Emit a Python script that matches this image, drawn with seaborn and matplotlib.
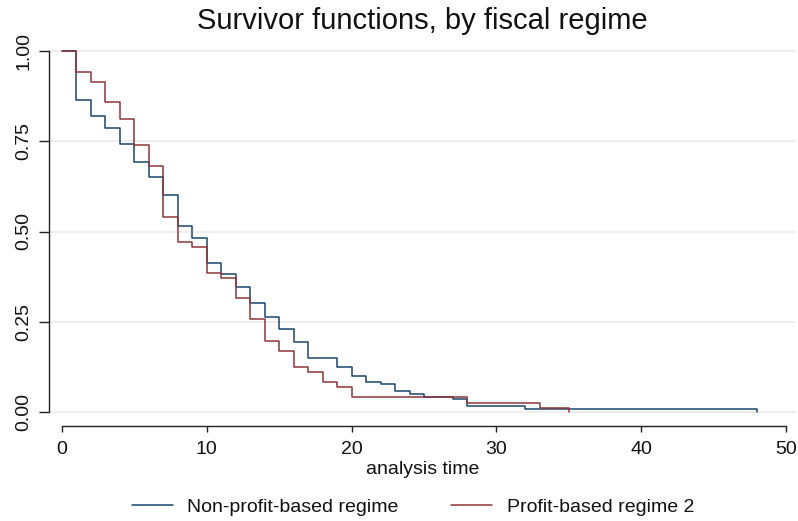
import matplotlib
matplotlib.use("Agg")
import matplotlib.pyplot as plt
import numpy as np
import pandas as pd
import seaborn as sns

# Kaplan-Meier survivor estimates (time of change, survival after it)
nonprofit_time = [0, 1, 2, 3, 4, 5, 6, 7, 8, 9, 10, 11, 12, 13, 14, 15, 16, 17,
                  19, 20, 21, 22, 23, 24, 25, 27, 28, 32, 48]
nonprofit_surv = [1.000, 0.864, 0.820, 0.786, 0.742, 0.693, 0.652, 0.601, 0.515,
                  0.481, 0.412, 0.381, 0.345, 0.303, 0.262, 0.229, 0.195, 0.150,
                  0.126, 0.101, 0.084, 0.078, 0.058, 0.049, 0.041, 0.035, 0.017,
                  0.009, 0.000]

profit_time = [0, 1, 2, 3, 4, 5, 6, 7, 8, 9, 10, 11, 12, 13, 14, 15, 16, 17,
               18, 19, 20, 28, 33, 35]
profit_surv = [1.000, 0.941, 0.913, 0.858, 0.813, 0.740, 0.681, 0.541, 0.472,
               0.456, 0.386, 0.370, 0.315, 0.257, 0.198, 0.170, 0.126, 0.112,
               0.084, 0.070, 0.042, 0.026, 0.011, 0.000]

group_labels = ["Non-profit-based regime", "Profit-based regime 2"]
group_colors = ["#1a476f", "#90353b"]

x_ticks = [0, 10, 20, 30, 40, 50]
y_ticks = [0.00, 0.25, 0.50, 0.75, 1.00]
y_tick_labels = ["0.00", "0.25", "0.50", "0.75", "1.00"]

df = pd.concat([
    pd.DataFrame({"time": nonprofit_time, "surv": nonprofit_surv, "group": group_labels[0]}),
    pd.DataFrame({"time": profit_time, "surv": profit_surv, "group": group_labels[1]}),
], ignore_index=True)

sns.set_theme(style="white")
plt.rcParams["font.family"] = ["Liberation Sans", "DejaVu Sans"]

W, H = 798, 521
fig = plt.figure(figsize=(W / 100, H / 100), dpi=100)
left_px, right_px, top_px, bottom_px = 49, 796, 47, 425.7
ax = fig.add_axes([left_px / W, 1 - bottom_px / H,
                   (right_px - left_px) / W, (bottom_px - top_px) / H])

sns.lineplot(data=df, x="time", y="surv", hue="group", hue_order=group_labels,
             palette=group_colors, estimator=None, sort=False,
             drawstyle="steps-post", linewidth=1.1, ax=ax, zorder=3)

# x: 0 -> 62px, 50 -> 786px ; y: 1 -> 51px, 0 -> 412px
xscale = (786 - 62) / 50
yscale = (412 - 51) / 1.0
ax.set_xlim(-(62 - left_px) / xscale, 50 + (right_px - 786) / xscale)
ax.set_ylim(-(bottom_px - 412) / yscale, 1 + (51 - top_px) / yscale)

ax.set_xticks(x_ticks)
ax.set_yticks(y_ticks)
ax.set_yticklabels(y_tick_labels)

ax.grid(axis="y", color="#eaeaea", linewidth=1.1, zorder=0)
ax.grid(axis="x", visible=False)

for s in ["top", "right"]:
    ax.spines[s].set_visible(False)
ax.spines["left"].set_bounds(0, 1)
ax.spines["bottom"].set_bounds(0, 50)
for s in ["left", "bottom"]:
    ax.spines[s].set_color("#222222")
    ax.spines[s].set_linewidth(1.0)

ax.tick_params(axis="x", direction="out", length=4.5, width=1.0, color="#222222",
               pad=6.5, labelsize=14, labelcolor="#111111", bottom=True)
ax.tick_params(axis="y", direction="out", length=7, width=1.0, color="#222222",
               pad=5, labelsize=14, labelcolor="#111111", left=True, labelrotation=90)
for lab in ax.get_yticklabels():
    lab.set_va("center")

ax.set_xlabel("analysis time", fontsize=14, color="#111111", labelpad=2)
ax.set_ylabel("")
ax.set_title("Survivor functions, by fiscal regime", fontsize=21, color="#111111", pad=13)

handles, labels = ax.get_legend_handles_labels()
if ax.get_legend() is not None:
    ax.get_legend().remove()
fig.legend(handles, labels, loc="center", bbox_to_anchor=(413 / W, 1 - 507 / H),
           ncol=2, frameon=False, fontsize=14, handlelength=2.1, handletextpad=0.75,
           columnspacing=2.7, labelcolor="#111111")

fig.savefig("out.png", dpi=100)
